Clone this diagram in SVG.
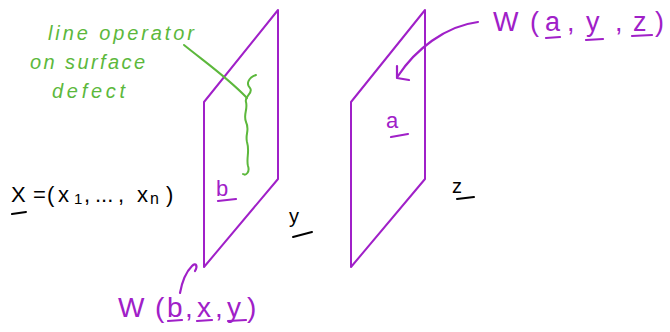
<svg xmlns="http://www.w3.org/2000/svg" width="670" height="332" viewBox="0 0 670 332">
<defs>
<style>
.plane{fill:none;stroke:#a020c8;stroke-width:2;stroke-linejoin:round}
.purp{fill:none;stroke:#a020c8;stroke-width:2.2;stroke-linecap:round;stroke-linejoin:round}
.grn{fill:none;stroke:#5cb83c;stroke-width:2;stroke-linecap:round;stroke-linejoin:round}
.blk{fill:none;stroke:#000;stroke-width:2;stroke-linecap:round}
.tp{font-family:"Liberation Sans",sans-serif;fill:#a020c8}
.tg{font-family:"Liberation Sans",sans-serif;fill:#5cb83c;font-style:italic}
.tb{font-family:"Liberation Sans",sans-serif;fill:#000}
</style>
</defs>
<rect width="670" height="332" fill="#fff"/>
<g id="plane-left">
<polygon class="plane" points="278,10 278,179 204,267 204,102"/>
<text class="tp" x="216" y="196" font-size="22">b</text>
<line class="purp" x1="218" y1="201" x2="236" y2="199"/>
</g>
<g id="plane-right">
<polygon class="plane" points="425,10 425,179 351,267 351,102"/>
<text class="tp" x="386" y="128" font-size="22">a</text>
<line class="purp" x1="391" y1="137" x2="408" y2="134"/>
</g>
<g id="line-operator">
<path class="grn" d="M256,75 C248,78 246,84 250,88 C254,93 244,96 246,102 C248,110 243,114 246,122 C250,130 245,134 247,142 C250,152 246,158 248,166 C250,172 246,176 243,174"/>
</g>
<g id="label-line-operator">
<text class="tg" x="48" y="40" font-size="20" textLength="146" lengthAdjust="spacing">line operator</text>
<text class="tg" x="30" y="69" font-size="20" textLength="115" lengthAdjust="spacing">on surface</text>
<text class="tg" x="52" y="98" font-size="20" textLength="73" lengthAdjust="spacing">defect</text>
</g>
<g id="label-X">
<text class="tb" font-size="22" y="202"><tspan x="11">X</tspan><tspan x="33">=</tspan><tspan x="47">(</tspan><tspan x="58">x</tspan><tspan x="74" font-size="15" dy="2">1</tspan><tspan x="84" dy="-2">,</tspan><tspan x="95">...</tspan><tspan x="118">,</tspan><tspan x="137">x</tspan><tspan x="150" font-size="16" dy="2">n</tspan><tspan x="166" dy="-2">)</tspan></text>
<line class="blk" x1="12" y1="214" x2="26" y2="212"/>
</g>
<g id="label-y">
<text class="tb" x="289" y="223" font-size="20">y</text>
<line class="blk" x1="293" y1="237" x2="312" y2="232"/>
</g>
<g id="label-z">
<text class="tb" x="452" y="193" font-size="20">z</text>
<line class="blk" x1="457" y1="199" x2="474" y2="197"/>
</g>
<g id="label-W-ayz">
<text class="tp" font-size="27" y="31"><tspan x="493">W</tspan><tspan x="530">(</tspan><tspan x="545">a</tspan><tspan x="567">,</tspan><tspan x="586">y</tspan><tspan x="615">,</tspan><tspan x="633">z</tspan><tspan x="655">)</tspan></text>
<line class="purp" x1="546" y1="38" x2="560" y2="37"/>
<line class="purp" x1="586" y1="40" x2="603" y2="39"/>
<line class="purp" x1="632" y1="36" x2="652" y2="35"/>
</g>
<g id="label-W-bxy">
<text class="tp" font-size="28" y="317"><tspan x="118">W</tspan><tspan x="155">(</tspan><tspan x="167">b</tspan><tspan x="185">,</tspan><tspan x="197">x</tspan><tspan x="215">,</tspan><tspan x="227">y</tspan><tspan x="247">)</tspan></text>
<line class="purp" x1="168" y1="321" x2="182" y2="320"/>
<line class="purp" x1="197" y1="321" x2="212" y2="320"/>
<line class="purp" x1="228" y1="321" x2="246" y2="320"/>
</g>
<g id="connectors">
<path class="grn" d="M184,45 C205,62 228,78 247,98"/>
<path class="purp" d="M478,22 C445,26 415,50 398,76"/>
<path class="purp" d="M397,66 L397,78 L409,80"/>
<path class="purp" d="M180,293 C182,282 186,272 192,266 C196,262 198,266 195,271"/>
</g>
</svg>
